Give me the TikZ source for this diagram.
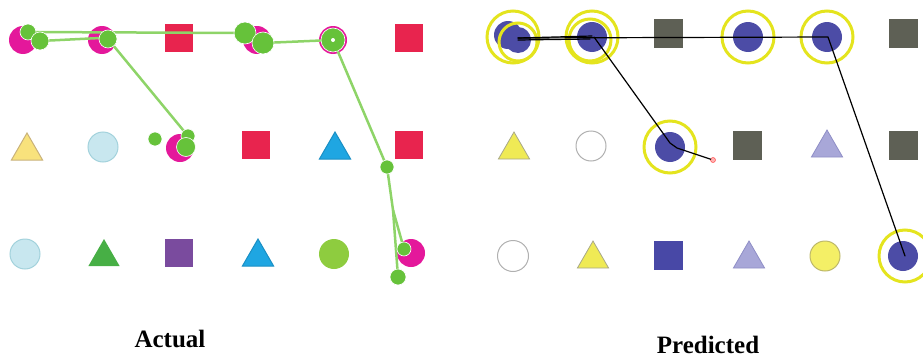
\documentclass[tikz,border=0pt]{standalone}
\usepackage{fontspec}
\setmainfont{Liberation Serif}
\usetikzlibrary{shapes.geometric}
\definecolor{magC}{HTML}{E4189B}
\definecolor{redC}{HTML}{E8244E}
\definecolor{gDot}{HTML}{66C23A}
\definecolor{gLine}{HTML}{8ED468}
\definecolor{yTri}{HTML}{F8E27C}
\definecolor{yTriB}{HTML}{C9B27A}
\definecolor{lBlue}{HTML}{C8E7EF}
\definecolor{lBlueB}{HTML}{A3D2DC}
\definecolor{bTri}{HTML}{1FA6E2}
\definecolor{bTriB}{HTML}{1A8FC4}
\definecolor{gTri}{HTML}{47AF45}
\definecolor{purC}{HTML}{7A4B9E}
\definecolor{lgC}{HTML}{8ECC3F}
\definecolor{sBlue}{HTML}{4C4CA6}
\definecolor{ringY}{HTML}{E4E41E}
\definecolor{grayS}{HTML}{5E6055}
\definecolor{yTwo}{HTML}{EFEA55}
\definecolor{yTwoB}{HTML}{A8A888}
\definecolor{wB}{HTML}{B0B0B0}
\definecolor{lav}{HTML}{A8A7D8}
\definecolor{lavB}{HTML}{8F8EC6}
\definecolor{bSq}{HTML}{4848A6}
\definecolor{yCirc}{HTML}{F4EF66}
\definecolor{yCircB}{HTML}{BDB86A}
\begin{document}
\begin{tikzpicture}[x=1pt,y=1pt,
  sq/.style={rectangle,inner sep=0pt,outer sep=0pt,minimum size=28pt},
  dot/.style={circle,inner sep=0pt,outer sep=0pt,minimum size=#1},
  tri/.style={regular polygon,regular polygon sides=3,inner sep=0pt,outer sep=0pt,minimum size=36pt},
  ring/.style={circle,inner sep=0pt,outer sep=0pt,draw=ringY,line width=3pt,minimum size=#1},
  gline/.style={draw=gLine,line width=2.5pt,line cap=round},
  bline/.style={draw=black,line width=1.2pt,line cap=round,line join=round},
  lab/.style={font=\bfseries\fontsize{25}{30}\selectfont,inner sep=0pt,anchor=base}]
\useasboundingbox (0,0) rectangle (923,360);
% ---------- Actual (left) ----------
\node[dot=28pt,fill=magC] (L11) at (23,320) {};
\node[dot=28pt,fill=magC] (L12) at (102,320) {};
\node[sq,fill=redC] (L13) at (179,322) {};
\node[dot=28pt,fill=magC] (L14) at (257,320) {};
\node[dot=28pt,fill=magC] (L15) at (333,320) {};
\node[sq,fill=redC] (L16) at (409,322) {};
\node[tri,fill=yTri,draw=yTriB,line width=1pt] (L21) at (27,209) {};
\node[dot=30pt,fill=lBlue,draw=lBlueB,line width=1pt] (L22) at (103,213) {};
\node[dot=28pt,fill=magC] (L23) at (180,212) {};
\node[sq,fill=redC] (L24) at (256,215) {};
\node[tri,fill=bTri,draw=bTriB,line width=1pt] (L25) at (335,210) {};
\node[sq,fill=redC] (L26) at (409,215) {};
\node[dot=30pt,fill=lBlue,draw=lBlueB,line width=1pt] (L31) at (25,106) {};
\node[tri,fill=gTri] (L32) at (104,103) {};
\node[sq,fill=purC] (L33) at (179,107) {};
\node[tri,fill=bTri,draw=bTriB,line width=1pt] (L34) at (258,103) {};
\node[dot=30pt,fill=lgC] (L35) at (334,106) {};
\node[dot=28pt,fill=magC] (L36) at (411,107) {};
% gaze coordinates (actual)
\coordinate (a1) at (28,328);
\coordinate (a2) at (40,319);
\coordinate (a3) at (108,321);
\coordinate (a4) at (245,327);
\coordinate (a5) at (263,317);
\coordinate (a6) at (333,320);
\coordinate (a7) at (155,221);
\coordinate (a8) at (188,224);
\coordinate (a9) at (186,213);
\coordinate (a10) at (387,193);
\coordinate (a11) at (404,111);
\coordinate (a12) at (398,83);
\coordinate (a3b) at (100,322);
\coordinate (a10b) at (393,150);
\path[gline] (a1) -- (a4);
\path[gline] (a2) -- (a3b);
\path[gline] (a3) -- (a8);
\path[gline] (a5) -- (a6) -- (a10) -- (a10b) -- (a12);
\path[gline] (a10b) -- (a11);
\foreach \n/\s in {a1/16pt,a2/18pt,a3/18pt,a4/22pt,a5/22pt,a7/14pt,a8/14pt,a9/19pt,a10/14pt,a11/14pt,a12/16pt}
  \node[dot=\s,fill=gDot,draw=white,line width=0.6pt] (d\n) at (\n) {};
\node[dot=24pt,fill=gDot,draw=white,line width=0.6pt] (da6) at (a6) {};
\node[dot=4pt,fill=white] (da6c) at (a6) {};
% ---------- Predicted (right) ----------
\node[dot=28pt,fill=sBlue] (R11a) at (508,325) {};
\node[dot=26pt,fill=sBlue] (R11b) at (518,320) {};
\node[ring=52pt] (Q11a) at (513,323) {};
\node[ring=38pt] (Q11b) at (518,318) {};
\node[dot=30pt,fill=sBlue] (R12) at (592,323) {};
\node[ring=52pt] (Q12a) at (592,323) {};
\node[ring=42pt] (Q12b) at (590,320) {};
\node[sq,minimum size=29pt,fill=grayS] (R13) at (668,326.5) {};
\node[dot=30pt,fill=sBlue] (R14) at (748,323) {};
\node[ring=52pt] (Q14) at (748,323) {};
\node[dot=30pt,fill=sBlue] (R15) at (827,323) {};
\node[ring=52pt] (Q15) at (827,323) {};
\node[sq,minimum size=29pt,fill=grayS] (R16) at (903,326.5) {};
\node[tri,fill=yTwo,draw=yTwoB,line width=0.8pt] (R21) at (514,210) {};
\node[dot=30pt,fill=white,draw=wB,line width=1pt] (R22) at (591,214) {};
\node[dot=30pt,fill=sBlue] (R23) at (670,213) {};
\node[ring=52pt] (Q23) at (670,213) {};
\node[sq,minimum size=29pt,fill=grayS] (R24) at (747,215) {};
\node[tri,fill=lav,draw=lavB,line width=0.8pt] (R25) at (827,212) {};
\node[sq,minimum size=29pt,fill=grayS] (R26) at (903,215) {};
\node[dot=31pt,fill=white,draw=wB,line width=1pt] (R31) at (513,104) {};
\node[tri,fill=yTwo,draw=yTwoB,line width=0.8pt] (R32) at (593,101) {};
\node[sq,minimum size=29pt,fill=bSq] (R33) at (668,105) {};
\node[tri,fill=lav,draw=lavB,line width=0.8pt] (R34) at (749,101) {};
\node[dot=30pt,fill=yCirc,draw=yCircB,line width=1pt] (R35) at (825,104) {};
\node[dot=30pt,fill=sBlue] (R36) at (903,104) {};
\node[ring=52pt] (Q36) at (905,104) {};
% predicted path
\coordinate (p1) at (518,322);
\coordinate (p1b) at (518,320);
\coordinate (p2) at (592,324);
\coordinate (p2b) at (590,321);
\coordinate (p3) at (594,323);
\coordinate (p4) at (670,217);
\coordinate (p5) at (677,212);
\coordinate (p6) at (828,323);
\coordinate (p7) at (905,104);
\node[dot=5pt,fill=red!30,draw=red!70,line width=0.5pt] (pe) at (713,200) {};
\path[bline] (p1) -- (p6) -- (p7);
\path[bline] (p1) -- (p2);
\path[bline] (p1b) -- (p2b);
\path[bline] (p3) -- (p4) -- (p5) -- (pe);
% labels
\node[lab] (actual) at (170,13) {Actual};
\node[lab] (pred) at (708,7) {Predicted};
\end{tikzpicture}
\end{document}
